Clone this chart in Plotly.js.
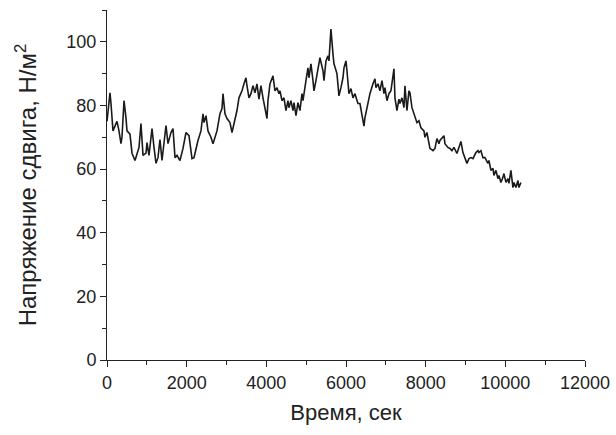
<!DOCTYPE html>
<html>
<head>
<meta charset="utf-8">
<script src="https://cdn.plot.ly/plotly-3.0.1.min.js"></script>
<style>html,body{margin:0;padding:0;background:#fff;}</style>
</head>
<body>
<div id="chart" style="width:616px;height:435px;"></div>
<script>
const timeSec = [0, 75, 100, 150, 226, 251, 301, 351, 376, 427, 477, 502, 577, 628, 703, 753, 803, 853, 904, 979, 1004, 1054, 1130, 1180, 1230, 1280, 1330, 1381, 1481, 1531, 1606, 1657, 1707, 1757, 1832, 1908, 1983, 2058, 2134, 2184,
  2234, 2284, 2359, 2410, 2435, 2485, 2535, 2610, 2661, 2711, 2761, 2836, 2887, 2912, 2962, 3012, 3087, 3138, 3188, 3263, 3313, 3389, 3439, 3489, 3514, 3564, 3614, 3665, 3715, 3765, 3815, 3865, 3916, 3941, 4016, 4041, 4091, 4167, 4217, 4267, 4317,
  4342, 4393, 4443, 4493, 4543, 4568, 4618, 4669, 4694, 4744, 4794, 4844, 4895, 4920, 4995, 5045, 5070, 5120, 5171, 5196, 5246, 5321, 5346, 5422, 5447, 5497, 5547, 5572, 5622, 5673, 5698, 5773, 5823, 5873, 5924, 5949, 5999, 6024, 6074, 6124, 6175, 6225, 6300, 6350, 6401, 6451,
  6476, 6551, 6601, 6677, 6727, 6752, 6802, 6852, 6903, 6953, 6978, 7028, 7078, 7128, 7204, 7229, 7279, 7329, 7354, 7405, 7455, 7480, 7530, 7580, 7605, 7656, 7731, 7781, 7831, 7881, 7957, 7982, 8032, 8082, 8107, 8183, 8233, 8283, 8333, 8358, 8459, 8484, 8559, 8609,
  8660, 8710, 8785, 8835, 8885, 8936, 8986, 9036, 9086, 9136, 9187, 9262, 9312, 9337, 9387, 9438, 9488, 9563, 9588, 9638, 9689, 9714, 9764, 9814, 9839, 9889, 9940, 9965, 10015, 10065, 10090, 10140, 10191, 10216, 10266, 10316, 10341, 10391];
const shearStress = [75, 84, 80.6, 72, 74.3, 75, 72, 68, 70, 81.5, 76, 72, 71, 65, 62.7, 65, 66.8, 74.3, 64.3, 65, 68.3, 64.3, 72.7, 66.8, 61.8, 63.6, 69.3, 62.7, 73.7, 68, 71.5, 72.7, 63.6, 64.3, 62.7, 66.5, 71.5, 70.5, 63.3, 63.6,
  66.5, 69, 72, 77.4, 74.6, 76.8, 72, 70, 68, 70, 72, 77.4, 79, 83.7, 77.4, 75.9, 74.6, 71.5, 74.3, 78.4, 82.4, 84.6, 86.8, 88.7, 86.2, 82.4, 83.7, 86.2, 84, 86.8, 82, 86.2, 82.4, 80.6, 75.9, 81.5, 86.8, 89.3, 84.6, 85.6, 83.7,
  84.6, 81.5, 82.4, 78.4, 81.5, 79.3, 81.5, 78.4, 80.9, 76.8, 80.9, 78.4, 83.7, 81.5, 87.8, 91.8, 88.7, 93.1, 87.8, 84.6, 87.8, 93.1, 95, 90.9, 87.8, 94, 95.6, 94, 104, 96.2, 93.1, 90, 83, 85.6, 88.7, 91.8, 94, 90.9, 83.7, 85.3, 82.4, 83.7, 80.6, 80.6, 77.4, 73.5,
  76.2, 80.6, 83.7, 86.8, 88.4, 85.6, 86.8, 84.6, 87.8, 83.7, 85.6, 81.5, 83.7, 84.6, 91.5, 82.4, 78.4, 82, 80.6, 82.4, 79.3, 86.2, 78.4, 84.6, 84, 79.3, 76.2, 74.6, 75.2, 73, 72, 70, 71.5, 68, 66.5, 65.8, 66.5, 69.6, 68, 69, 70.5, 68, 66.8, 66.5,
  65.8, 66.8, 64.9, 66.8, 68.7, 65.2, 63.6, 61.8, 63.3, 63.6, 63.3, 65.2, 65.8, 65.2, 65.8, 63.6, 63.6, 61.8, 62.7, 59.6, 60.2, 58, 59.6, 57, 58, 55.8, 57.4, 58.6, 55.8, 57, 55.5, 59.6, 54.2, 55.8, 54.2, 56.4, 54.2, 55.8];

const xTitle = 'Время, сек';
const yTitle = 'Напряжение сдвига, Н/м<sup>2</sup>';

const fontFam = 'Liberation Sans, Arial, sans-serif';

Plotly.newPlot('chart', [{
  x: timeSec,
  y: shearStress,
  type: 'scatter',
  mode: 'lines',
  line: {color: '#1a1a1a', width: 1.6},
  hoverinfo: 'skip'
}], {
  width: 616,
  height: 435,
  margin: {l: 107, r: 31, t: 10, b: 75},
  paper_bgcolor: '#fff',
  plot_bgcolor: '#fff',
  showlegend: false,
  font: {family: fontFam, color: '#222'},
  xaxis: {
    range: [0, 12000],
    tickmode: 'linear', tick0: 0, dtick: 2000, tickformat: 'd',
    ticks: 'outside', ticklen: 6, tickwidth: 1, tickcolor: '#222',
    minor: {dtick: 1000, ticks: 'outside', ticklen: 4, tickcolor: '#222'},
    showline: true, linecolor: '#222', linewidth: 1,
    showgrid: false, zeroline: false,
    tickfont: {size: 18, family: fontFam, color: '#222'},
    title: {text: xTitle, font: {size: 22, family: fontFam, color: '#222'}, standoff: 13}
  },
  yaxis: {
    range: [0, 110],
    tickmode: 'linear', tick0: 0, dtick: 20,
    ticks: 'outside', ticklen: 6, tickwidth: 1, tickcolor: '#222',
    minor: {dtick: 10, ticks: 'outside', ticklen: 4, tickcolor: '#222'},
    showline: true, linecolor: '#222', linewidth: 1,
    showgrid: false, zeroline: false,
    tickfont: {size: 18, family: fontFam, color: '#222'},
    title: {text: yTitle, font: {size: 24, family: fontFam, color: '#222'}, standoff: 22}
  }
}, {staticPlot: true});
</script>
</body>
</html>
